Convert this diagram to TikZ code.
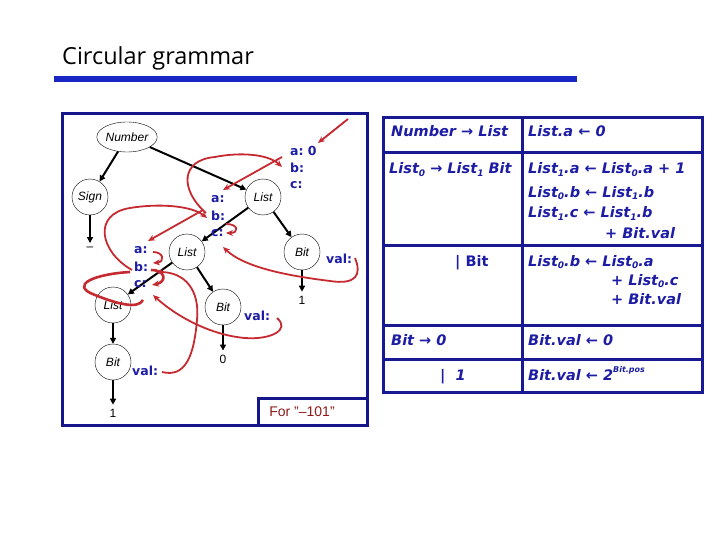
\documentclass[tikz,border=0pt]{standalone}
\usepackage{fontspec}
\setmainfont{Liberation Sans}
\newfontfamily\cfont{DejaVu Sans}
\newfontfamily\tfont{Open Sans}
\usetikzlibrary{arrows.meta,shapes.geometric}
\definecolor{navy}{HTML}{16168C}
\definecolor{tblue}{HTML}{1C1CA4}
\definecolor{barblue}{HTML}{1A26C4}
\definecolor{rred}{HTML}{C42A30}
\definecolor{fred}{HTML}{8E1A1A}
\newcommand{\sbx}[1]{\raisebox{-0.35ex}{\fontsize{9}{9}\selectfont #1}}
\newcommand{\spx}[1]{\raisebox{0.9ex}{\fontsize{8}{8}\selectfont #1}}
\tikzset{
  tnode/.style={circle,draw,thin,minimum size=36pt,inner sep=0pt,font=\fontsize{12}{12}\selectfont\itshape},
  leaf/.style={font=\fontsize{12}{12}\selectfont,inner sep=4pt},
  tedge/.style={line width=2pt,-{Triangle[length=6pt,width=6pt]}},
  attr/.style={anchor=west,inner sep=0pt,text=tblue,font=\cfont\bfseries\fontsize{12.5}{12.5}\selectfont},
  tt/.style={anchor=base west,inner sep=0pt,text=tblue,font=\cfont\bfseries\itshape\fontsize{14.5}{14.5}\selectfont},
  dep/.style={rred,line width=1.8pt,-{Stealth[length=7pt,width=6pt]}},
  depth/.style={rred,line width=2.6pt,-{Stealth[length=7pt,width=6pt]}},
  frame/.style={navy,line width=3pt},
}
\begin{document}
\begin{tikzpicture}[x=1pt,y=-1pt]
\useasboundingbox (0,0) rectangle (720,540);
% title
\node[anchor=base west,inner sep=0pt,font=\tfont\fontsize{23.5}{23.5}\selectfont] (title) at (62,65) {Circular grammar};
\fill[barblue] (54,76) rectangle (577,82);
% left frame
\draw[frame] (62,114) rectangle (367,425);
\draw[frame] (258,425) -- (258,398) -- (367,398);
\node[text=fred,font=\fontsize{14}{14}\selectfont,inner sep=0pt] (for) at (302,412) {For "--101"};
% tree
\node[draw,thin,ellipse,minimum width=55pt,minimum height=30pt,inner sep=0pt,font=\fontsize{12}{12}\selectfont\itshape] (num) at (127,137) {Number};
\node[tnode] (sign) at (90,197) {Sign};
\node[tnode] (l0) at (263,197) {List};
\node[tnode] (l1) at (187,252) {List};
\node[tnode] (b0) at (302,252) {Bit};
\node[tnode] (l2) at (113,305) {List};
\node[tnode] (b1) at (223,307) {Bit};
\node[tnode] (b2) at (113,362) {Bit};
\node[leaf] (minus) at (90,249) {--};
\node[leaf] (one0) at (302,300) {1};
\node[leaf] (zero1) at (223,359) {0};
\node[leaf] (one2) at (113,413) {1};
\draw[tedge] (num) -- (sign);
\draw[tedge] (num) -- (l0);
\draw[tedge] (sign) -- (minus);
\draw[tedge] (l0) -- (l1);
\draw[tedge] (l0) -- (b0);
\draw[tedge] (l1) -- (l2);
\draw[tedge] (l1) -- (b1);
\draw[tedge] (l2) -- (b2);
\draw[tedge] (b0) -- (one0);
\draw[tedge] (b1) -- (zero1);
\draw[tedge] (b2) -- (one2);
% attribute labels
\node[attr] (ta) at (290,151) {a:\ 0};
\node[attr] (tb) at (290,168) {b:};
\node[attr] (tc) at (290,185) {c:};
\node[attr] (ma) at (211,199) {a:};
\node[attr] (mb) at (211,216) {b:};
\node[attr] (mc) at (211,233) {c:};
\node[attr] (la) at (134,250) {a:};
\node[attr] (lb) at (134,267) {b:};
\node[attr] (lc) at (134,284) {c:};
\node[attr] (v0) at (326,259) {val:};
\node[attr] (v1) at (244,316) {val:};
\node[attr] (v2) at (132,371) {val:};
% red dependencies
\coordinate (ext) at (348,119);
\draw[dep] (ext) -- (318,143);
\draw[dep] (282,157) -- (223,190);
\draw[dep] (206,213) .. controls (180,190) and (180,160) .. (215,157) .. controls (240,152) and (268,154) .. (282,167);
\draw[dep] (226,224) .. controls (239,224) and (239,233) .. (226,233);
\draw[dep] (355,258) .. controls (362,275) and (356,285) .. (330,281) .. controls (290,276) and (245,268) .. (223,247);
\draw[dep] (203,210) -- (148,241);
\draw[dep] (132,270) .. controls (100,252) and (92,214) .. (130,208) .. controls (160,203) and (192,206) .. (207,218);
\draw[dep] (153,252) .. controls (164,252) and (165,262) .. (153,263);
\draw[depth] (151,270) .. controls (166,270) and (167,282) .. (152,285);
\draw[rred,line width=2.6pt] (130,272) .. controls (95,274) and (68,285) .. (95,295) .. controls (115,303) and (138,310) .. (143,300);
\draw[dep] (162,372) .. controls (186,378) and (194,355) .. (197,320) .. controls (200,290) and (185,272) .. (156,272);
\draw[dep] (277,318) .. controls (291,330) and (270,340) .. (245,338) .. controls (210,335) and (176,316) .. (153,295);
% table
\draw[frame,tblue!90!black] (383,118) rectangle (702,392);
\draw[frame,tblue!90!black] (522,118) -- (522,392);
\draw[frame,tblue!90!black] (383,153) -- (702,153);
\draw[frame,tblue!90!black] (383,245) -- (702,245);
\draw[frame,tblue!90!black] (383,325) -- (702,325);
\draw[frame,tblue!90!black] (383,359) -- (702,359);
\node[tt] (p1) at (391,137) {Number → List};
\node[tt] (r1) at (528,137) {List.a ← 0};
\node[tt] (p2) at (389,174) {List\sbx{0} → List\sbx{1} Bit};
\node[tt] (r2a) at (528,174) {List\sbx{1}.a ← List\sbx{0}.a + 1};
\node[tt] (r2b) at (528,197) {List\sbx{0}.b ← List\sbx{1}.b};
\node[tt] (r2c) at (528,218) {List\sbx{1}.c ← List\sbx{1}.b};
\node[tt] (r2d) at (605,239) {+ Bit.val};
\node[tt,font=\cfont\bfseries\fontsize{14.5}{14.5}\selectfont] (p3) at (455,266) {| Bit};
\node[tt] (r3a) at (528,266) {List\sbx{0}.b ← List\sbx{0}.a};
\node[tt] (r3b) at (611,285) {+ List\sbx{0}.c};
\node[tt] (r3c) at (611,304) {+ Bit.val};
\node[tt] (p4) at (391,345) {Bit → 0};
\node[tt] (r4) at (528,345) {Bit.val ← 0};
\node[tt] (p5) at (440,380) {|\ \ 1};
\node[tt] (r5) at (528,380) {Bit.val ← 2\spx{Bit.pos}};
\end{tikzpicture}
\end{document}
